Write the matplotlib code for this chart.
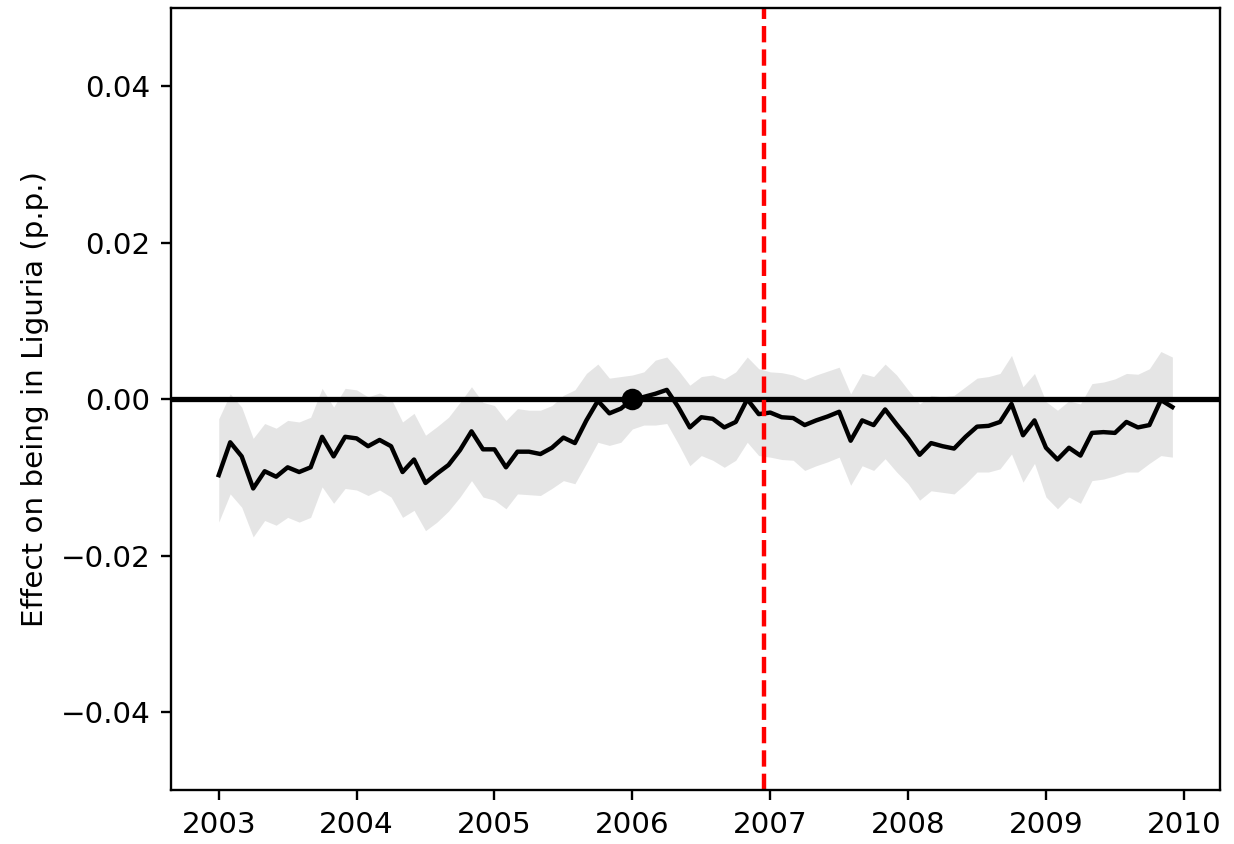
import numpy as np
import matplotlib
matplotlib.use("Agg")
import matplotlib.pyplot as plt

# monthly event-study coefficients, Jan 2003 .. Dec 2009
start_year = 2003
coef = [-0.0097, -0.0055, -0.0073, -0.0114, -0.0092, -0.0099, -0.0087, -0.0093,
        -0.0087, -0.0048, -0.0073, -0.0048, -0.0050, -0.0060, -0.0052, -0.0060,
        -0.0093, -0.0077, -0.0107, -0.0095, -0.0084, -0.0065, -0.0041, -0.0064,
        -0.0064, -0.0087, -0.0067, -0.0067, -0.0070, -0.0062, -0.0049, -0.0056,
        -0.0027, -0.0002, -0.0018, -0.0012, 0.0000, 0.0003, 0.0007, 0.0012,
        -0.0010, -0.0036, -0.0023, -0.0025, -0.0036, -0.0029, 0.0000, -0.0019,
        -0.0017, -0.0023, -0.0024, -0.0033, -0.0027, -0.0022, -0.0016, -0.0053,
        -0.0027, -0.0033, -0.0013, -0.0032, -0.0050, -0.0071, -0.0056, -0.0060,
        -0.0063, -0.0048, -0.0035, -0.0034, -0.0029, -0.0006, -0.0046, -0.0027,
        -0.0062, -0.0077, -0.0062, -0.0072, -0.0043, -0.0042, -0.0043, -0.0029,
        -0.0036, -0.0033, -0.0001, -0.0010]
ci_upper = [-0.0025, 0.0007, -0.0010, -0.0050, -0.0031, -0.0037, -0.0027, -0.0029,
            -0.0023, 0.0014, -0.0010, 0.0014, 0.0012, 0.0003, 0.0008, 0.0001,
            -0.0029, -0.0018, -0.0046, -0.0035, -0.0023, -0.0004, 0.0016, -0.0004,
            -0.0008, -0.0027, -0.0012, -0.0014, -0.0014, -0.0008, 0.0005, 0.0012,
            0.0033, 0.0045, 0.0027, 0.0029, 0.0031, 0.0035, 0.0050, 0.0054,
            0.0037, 0.0018, 0.0029, 0.0031, 0.0026, 0.0035, 0.0054, 0.0039,
            0.0035, 0.0034, 0.0031, 0.0025, 0.0031, 0.0036, 0.0041, 0.0007,
            0.0033, 0.0029, 0.0045, 0.0031, 0.0012, -0.0006, 0.0005, 0.0003,
            0.0005, 0.0016, 0.0027, 0.0029, 0.0033, 0.0056, 0.0016, 0.0033,
            -0.0003, -0.0014, -0.0002, -0.0006, 0.0020, 0.0022, 0.0026, 0.0033,
            0.0032, 0.0039, 0.0061, 0.0054]
ci_lower = [-0.0157, -0.0121, -0.0138, -0.0176, -0.0155, -0.0161, -0.0151, -0.0157,
            -0.0151, -0.0112, -0.0133, -0.0114, -0.0116, -0.0123, -0.0116, -0.0125,
            -0.0151, -0.0142, -0.0168, -0.0157, -0.0143, -0.0125, -0.0104, -0.0125,
            -0.0129, -0.0140, -0.0121, -0.0122, -0.0123, -0.0114, -0.0104, -0.0108,
            -0.0082, -0.0055, -0.0059, -0.0055, -0.0038, -0.0033, -0.0033, -0.0031,
            -0.0057, -0.0085, -0.0072, -0.0078, -0.0087, -0.0078, -0.0055, -0.0072,
            -0.0074, -0.0077, -0.0078, -0.0091, -0.0085, -0.0080, -0.0074, -0.0110,
            -0.0085, -0.0091, -0.0076, -0.0093, -0.0108, -0.0129, -0.0117, -0.0119,
            -0.0121, -0.0108, -0.0093, -0.0093, -0.0089, -0.0070, -0.0106, -0.0082,
            -0.0125, -0.0140, -0.0125, -0.0133, -0.0104, -0.0102, -0.0098, -0.0093,
            -0.0093, -0.0082, -0.0072, -0.0074]
ref_period = 2006.0      # omitted month
policy_date = 2006.958   # treatment start

t = start_year + np.arange(len(coef)) / 12.0

dpi = 211.6
fig = plt.figure(figsize=(1234 / dpi, 844 / dpi), dpi=dpi)
ax = fig.add_axes([0.1386, 0.0634, 0.8501, 0.9271])

ax.fill_between(t, ci_lower, ci_upper, color="gray", alpha=0.2, linewidth=0)
ax.plot(t, coef, color="black", linewidth=1.5)
ax.axhline(0, color="black", linewidth=1.8)
ax.axvline(policy_date, color="red", linestyle="--", linewidth=1.5)
ax.scatter([ref_period], [0], color="black", s=40, zorder=5)

ax.set_ylim(-0.05, 0.05)
ax.set_yticks([-0.04, -0.02, 0.0, 0.02, 0.04])
ax.set_xticks(range(2003, 2011))
ax.set_ylabel("Effect on being in Liguria (p.p.)")

fig.savefig("out.png", dpi=dpi)
plt.close()
